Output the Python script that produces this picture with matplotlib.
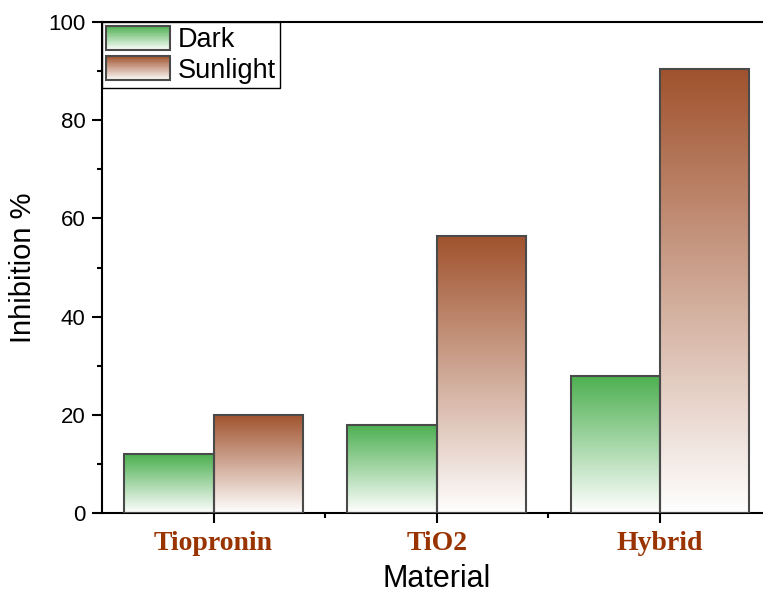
import numpy as np
import matplotlib
matplotlib.use("Agg")
import matplotlib.pyplot as plt
from matplotlib.patches import Rectangle
from matplotlib.legend_handler import HandlerBase
from matplotlib.colors import to_rgb

categories = ["Tiopronin", "TiO2", "Hybrid"]
series_names = ["Dark", "Sunlight"]
dark_values = [12, 18, 28]
sunlight_values = [20, 56.5, 90.5]
yticks = [0, 20, 40, 60, 80, 100]

colors = {"Dark": "#4CAF50", "Sunlight": "#A0522D"}
edge = "#4a4a4a"

fig = plt.figure(figsize=(7.63, 5.94), dpi=100)
ax = fig.add_axes([102/763, 81/594, (771.5-102)/763, 491/594])

def grad_img(color, n=256):
    c = np.array(to_rgb(color))
    t = np.linspace(0, 1, n)[:, None]  # 0 bottom -> 1 top
    img = (1 - t) * np.ones(3) + t * c
    return img[:, None, :]

width = 0.4
x = np.arange(len(categories))
for i, (name, vals) in enumerate(zip(series_names, [dark_values, sunlight_values])):
    offs = (i - 0.5) * width
    bars = ax.bar(x + offs, vals, width, color="none", edgecolor=edge, linewidth=1.5, zorder=3)
    for b in bars:
        x0, y0 = b.get_x(), b.get_y()
        w, h = b.get_width(), b.get_height()
        ax.imshow(grad_img(colors[name]), extent=[x0, x0 + w, y0, y0 + h],
                  origin="lower", aspect="auto", zorder=2, interpolation="bilinear")

ax.set_xlim(-0.5, 2.5)
ax.set_ylim(0, 100)
ax.set_yticks(yticks)
ax.set_yticks(np.arange(10, 100, 20), minor=True)
ax.set_xticks(x)
ax.set_xticks([0.5, 1.5], minor=True)
ax.set_xticklabels(categories, family="Liberation Serif", fontweight="bold",
                   color="#993300", fontsize=20)
for lab in ax.get_yticklabels():
    lab.set_family("Liberation Sans")
    lab.set_fontsize(16)
ax.tick_params(axis="both", which="major", direction="out", length=7, width=1.5)
ax.tick_params(axis="both", which="minor", direction="out", length=3.5, width=1.5)
ax.tick_params(axis="y", which="major", pad=5)
ax.tick_params(axis="x", which="major", pad=6)
for s in ax.spines.values():
    s.set_linewidth(1.5)

ax.set_ylabel("Inhibition %", family="Liberation Sans", fontsize=21, labelpad=8)
ax.set_xlabel("Material", family="Liberation Sans", fontsize=22, labelpad=6)


class GradHandler(HandlerBase):
    def __init__(self, color):
        super().__init__()
        self.color = color

    def create_artists(self, legend, orig_handle, xdescent, ydescent, width, height, fontsize, trans):
        arts = []
        n = 30
        c = np.array(to_rgb(self.color))
        for k in range(n):
            t = (k + 0.5) / n
            col = (1 - t) * np.ones(3) + t * c
            r = Rectangle((-xdescent, -ydescent + height * k / n), width, height / n + 0.3,
                          facecolor=col, edgecolor="none", transform=trans)
            arts.append(r)
        arts.append(Rectangle((-xdescent, -ydescent), width, height, facecolor="none",
                              edgecolor=edge, linewidth=1.5, transform=trans))
        return arts

h1 = Rectangle((0, 0), 1, 1)
h2 = Rectangle((0, 0), 1, 1)
leg = ax.legend([h1, h2], series_names, loc="upper left", borderaxespad=0,
                handler_map={h1: GradHandler(colors["Dark"]), h2: GradHandler(colors["Sunlight"])},
                prop={"family": "Liberation Sans", "size": 19.5}, handlelength=2.35, handleheight=1.0,
                labelspacing=0.1, handletextpad=0.3, borderpad=0.15, fancybox=False,
                framealpha=1, edgecolor="black")
leg.get_frame().set_linewidth(1.0)
leg.set_zorder(5)

fig.savefig("out.png", dpi=100)
